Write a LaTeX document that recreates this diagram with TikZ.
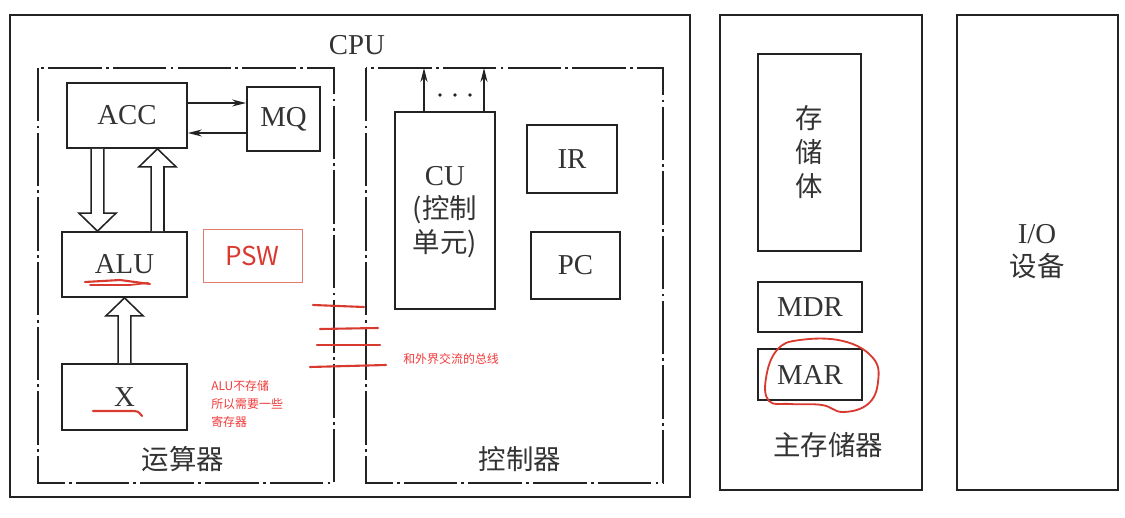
\documentclass[tikz,border=0pt]{standalone}
\usepackage{fontspec}
\setmainfont{Liberation Serif}
\newfontfamily\cjk{Noto Sans CJK SC}
\usetikzlibrary{arrows.meta,calc}
\definecolor{ink}{HTML}{222222}
\definecolor{txt}{HTML}{333333}
\definecolor{redpen}{HTML}{D83A30}
\definecolor{rednote}{HTML}{F03A3A}
\definecolor{redbox}{HTML}{E07A6E}
\newcommand{\hollowarrow}[3]{%
  \draw[hollow] let \p1=(#1), \p2=(#2), \n1={(#3)*12.8pt} in
    ({\x1-4.6pt},\y1) -- ({\x1-4.6pt},{\y2+\n1}) -- ({\x1-13.2pt},{\y2+\n1})
    -- (\x1,\y2) -- ({\x1+13.2pt},{\y2+\n1}) -- ({\x1+4.6pt},{\y2+\n1})
    -- ({\x1+4.6pt},\y1);}
\begin{document}
\begin{tikzpicture}[x=0.025cm,y=-0.025cm,
  box/.style={draw=ink,line width=1.2pt,inner sep=0pt,text=txt,font=\fontsize{20.5}{24}\selectfont},
  frame/.style={draw=ink,line width=1.2pt},
  dashframe/.style={draw=ink,line width=1.2pt,dash pattern=on 38pt off 3pt on 2pt off 3pt},
  lbl/.style={text=txt,font=\cjk\fontsize{19.5}{24}\selectfont,inner sep=0pt},
  serlbl/.style={text=txt,font=\fontsize{20.5}{24}\selectfont,inner sep=0pt},
  note/.style={text=rednote,font=\cjk\fontsize{8.5}{12.8}\selectfont,align=left,inner sep=0pt},
  hollow/.style={draw=ink,line width=1.1pt,fill=white,line join=miter},
  thinarrow/.style={draw=ink,line width=1pt,-{Stealth[length=10pt,width=5pt]}},
  redline/.style={draw=redpen,line width=1.5pt,line cap=round,line join=round},
]
\useasboundingbox (0,0) rectangle (1125,518);

% outer frames
\draw[frame] (10,15) rectangle (690,497);
\draw[frame] (720,15) rectangle (922,490);
\draw[frame] (957,15) rectangle (1118,490);
\draw[dashframe] (38,68) rectangle (334,483);
\draw[dashframe] (366,68) rectangle (663,483);
\coordinate (ctltop) at (500,68);

\node[serlbl] (cpulbl) at (357,45) {CPU};
\node[lbl] (alulbl) at (183,459) {运算器};
\node[lbl] (ctllbl) at (520,459) {控制器};
\node[lbl] (memlbl) at (828,445) {主存储器};

% arithmetic unit
\node[box,minimum width=3cm,minimum height=1.625cm] (acc) at (127,115.5) {ACC};
\node[box,minimum width=1.825cm,minimum height=1.6cm] (mq) at (283.5,119) {MQ};
\node[box,minimum width=3.125cm,minimum height=1.625cm] (alu) at (124.5,264.5) {ALU};
\node[box,minimum width=3.125cm,minimum height=1.65cm] (x) at (124.5,397) {X};
\node[draw=redbox,line width=0.6pt,minimum width=2.475cm,minimum height=1.325cm,inner sep=0pt,
      text=redpen,font=\cjk\fontsize{18.5}{22}\selectfont] (psw) at (252.5,255.5) {PSW};

\path ([yshift=0.3125cm]acc.east) coordinate (am1);
\draw[thinarrow] (am1) -- (am1 -| mq.west);
\path ([yshift=-0.4375cm]acc.east) coordinate (am2);
\draw[thinarrow] (am2 -| mq.west) -- (am2);

\path ([xshift=-0.7375cm]acc.south) coordinate (h1);
\path ([xshift=0.825cm]alu.north) coordinate (h2);
\hollowarrow{h1}{alu.north}{1}
\hollowarrow{h2}{acc.south}{-1}
\hollowarrow{x.north}{alu.south}{-1}

% controller
\node[box,minimum width=2.5cm,minimum height=4.925cm] (cu) at (445,210.5) {};
\node[serlbl,align=center,font=\fontsize{20.5}{23.8}\selectfont] (cutxt) at ([yshift=-0.04cm]cu.center)
  {CU\\{\cjk\fontsize{19.5}{23.8}\selectfont(控制}\\{\cjk\fontsize{19.5}{23.8}\selectfont 单元)}};
\node[box,minimum width=2.25cm,minimum height=1.7cm] (ir) at (572,159) {IR};
\node[box,minimum width=2.225cm,minimum height=1.675cm] (pc) at (575.5,265.5) {PC};
\path ([xshift=-0.525cm]cu.north) coordinate (c1);
\path ([xshift=0.975cm]cu.north) coordinate (c2);
\draw[thinarrow] (c1) -- (c1 |- ctltop);
\draw[thinarrow] (c2) -- (c2 |- ctltop);
\fill[ink] (440,95) circle (1.3pt) (455,95) circle (1.3pt) (470,95) circle (1.3pt);

% main memory
\node[box,minimum width=2.575cm,minimum height=4.925cm] (mem) at (809.5,152.5) {};
\node[lbl,align=center,font=\cjk\fontsize{19.5}{24.2}\selectfont] (memtxt) at (mem.center) {存\\储\\体};
\node[box,minimum width=2.6cm,minimum height=1.25cm] (mdr) at (810,307) {MDR};
\node[box,minimum width=2.6cm,minimum height=1.275cm] (mar) at (810,374.5) {MAR};

% I/O
\node[serlbl,align=center,font=\fontsize{20.5}{23.5}\selectfont] (io) at (1037,252) {I/O\\{\cjk\fontsize{19.5}{23.5}\selectfont 设备}};

% red annotations
\draw[redline] (85,282) -- (120,280) -- (150,284);
\draw[redline,line width=1.2pt] (90,285) -- (130,285) -- (148,283);
\draw[redline] (93,411) -- (130,411) .. controls (138,411) .. (142,416);
\draw[redline,line width=1.3pt] plot[smooth cycle,tension=0.7] coordinates
  {(777,350) (800,340) (843,341) (873,358) (878,382) (868,404) (843,412) (822,405) (790,404) (769,401) (766,378)};
\draw[redline] (313,305) -- (364,307);
\draw[redline] (320,329) -- (378,328);
\draw[redline] (317,345) -- (380,345);
\draw[redline] (310,367) -- (386,365);
\node[note,anchor=north west] (note1) at (211,380) {ALU不存储\\所以需要一些\\寄存器};
\node[note,anchor=west] (note2) at (403,359) {和外界交流的总线};
\end{tikzpicture}
\end{document}
